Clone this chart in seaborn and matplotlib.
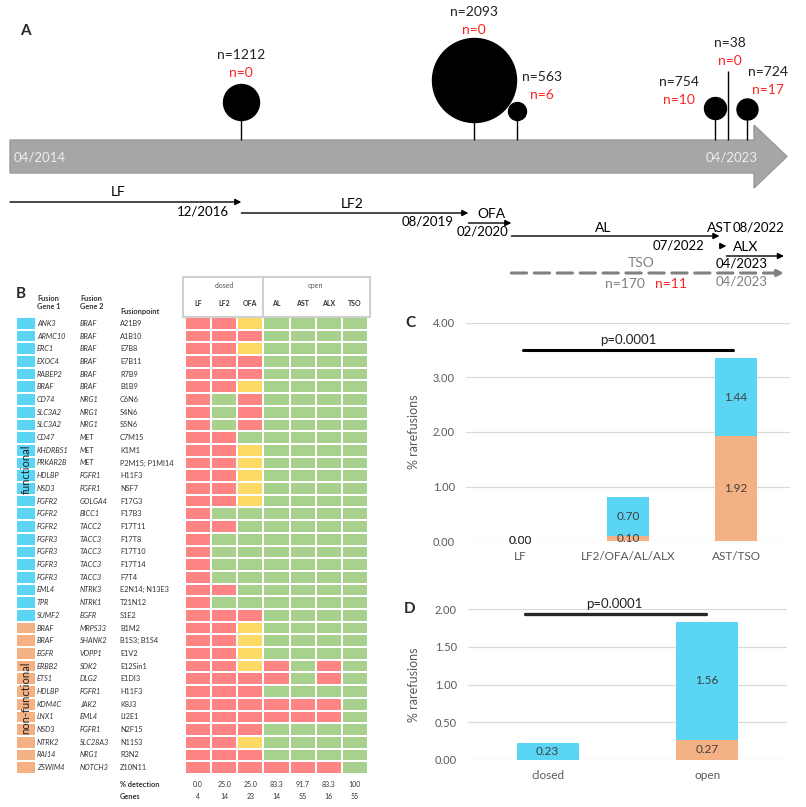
import numpy as np
import pandas as pd
import matplotlib
matplotlib.use("Agg")
import matplotlib.pyplot as plt
import matplotlib.transforms as mtransforms
from matplotlib.colors import ListedColormap
from matplotlib.patches import Polygon, Rectangle
import seaborn as sns

# ---------------- data ----------------
# panel A: cohorts on the timeline
lolli_date = [2016.94, 2019.64, 2020.15, 2022.45, 2022.60, 2022.82]
lolli_n = [1212, 2093, 563, 754, 38, 724]
lolli_hits = [0, 0, 6, 10, 0, 17]

# panel A: panel validity periods
arr_names = ["LF", "LF2", "OFA", "AL", "AST", "ALX", "TSO"]
arr_start = [2014.25, 2016.94, 2019.58, 2020.08, 2022.50, 2022.58, 2020.08]
arr_end = [2016.94, 2019.58, 2020.08, 2022.50, 2022.58, 2023.25, 2023.25]
arr_end_label = ["12/2016", "08/2019", "02/2020", "07/2022", "08/2022", "04/2023", "04/2023"]
tso_n = 170
tso_hits = 11

# panel B: rare fusions and detection per panel (R = no, Y = partial, G = yes)
panels = ["LF", "LF2", "OFA", "AL", "AST", "ALX", "TSO"]
gene1 = ["ANK3", "ARMC10", "ERC1", "EXOC4", "RABEP2", "BRAF", "CD74", "SLC3A2",
         "SLC3A2", "CD47", "KHDRBS1", "PRKAR2B", "HDLBP", "NSD3", "FGFR2", "FGFR2",
         "FGFR2", "FGFR3", "FGFR3", "FGFR3", "FGFR3", "EML4", "TPR", "SUMF2",
         "BRAF", "BRAF", "EGFR", "ERBB2", "ETS1", "HDLBP", "KDM4C", "LNX1",
         "NSD3", "NTRK2", "RAI14", "ZSWIM4"]
gene2 = ["BRAF", "BRAF", "BRAF", "BRAF", "BRAF", "BRAF", "NRG1", "NRG1",
         "NRG1", "MET", "MET", "MET", "FGFR1", "FGFR1", "GOLGA4", "BICC1",
         "TACC2", "TACC3", "TACC3", "TACC3", "TACC3", "NTRK3", "NTRK1", "EGFR",
         "MRPS33", "SHANK2", "VOPP1", "SDK2", "DLG2", "FGFR1", "JAK2", "EML4",
         "FGFR1", "SLC28A3", "NRG1", "NOTCH3"]
fusionpoint = ["A21B9", "A1B10", "E7B8", "E7B11", "R7B9", "B1B9", "C6N6", "S4N6",
               "S5N6", "C7M15", "K1M1", "P2M15; P1MI14", "H11F3", "NSF7", "F17G3", "F17B3",
               "F17T11", "F17T8", "F17T10", "F17T14", "F7T4", "E2N14; N13E3", "T21N12", "S1E2",
               "B1M2", "B1S3; B1S4", "E1V2", "E12Sin1", "E1DI3", "H11F3", "K8J3", "LI2E1",
               "N2F15", "N11S3", "R3N2", "Z10N11"]
functional = [1] * 24 + [0] * 12
detection = ["RRYGGGG", "RRRGGGG", "RRYGGGG", "RRRGGGG", "RRRGGGG", "RRYGGGG",
             "RGRGGGG", "RGRGGGG", "RGRGGGG", "RRGGGGG", "RRYGGGG", "RRYGGGG",
             "RRYGGGG", "RRYGGGG", "RRYGGGG", "RGGGGGG", "RRGGGGG", "RGGGGGG",
             "RGGGGGG", "RGGGGGG", "RGGGGGG", "RRGGGGG", "RGGGGGG", "RRRGGGG",
             "RRYGGGG", "RRYGGGG", "RRYGGGG", "RRYRGRG", "RRRRGRG", "RRRGGGG",
             "RRRRRRG", "RRRRRRG", "RRRGGGG", "RRYGGGG", "RRRGGGG", "RRRRRRG"]
pct_detection = ["0.0", "25.0", "25.0", "83.3", "91.7", "83.3", "100"]
n_genes = [4, 14, 23, 14, 55, 16, 55]

# panel C / D: % rare fusions
c_groups = ["LF", "LF2/OFA/AL/ALX", "AST/TSO"]
c_nonfunc = [0.00, 0.10, 1.92]
c_func = [0.00, 0.70, 1.44]
d_groups = ["closed", "open"]
d_nonfunc = [0.00, 0.27]
d_func = [0.23, 1.56]
p_value = "p=0.0001"

# ---------------- style ----------------
W, H = 806, 807
BLUE = "#5AD5F4"
ORANGE = "#F4B183"
RED_CELL = "#FF8585"
YEL_CELL = "#FFD966"
GRN_CELL = "#A9D18E"
RED_TXT = "#FF2222"
GREY_TXT = "#595959"

sns.set_style("white")
plt.rcParams["font.family"] = ["Lato", "DejaVu Sans"]

fig = plt.figure(figsize=(W / 100, H / 100), dpi=100)


def px_axes(x0, y0, x1, y1):
    return fig.add_axes([x0 / W, 1 - y1 / H, (x1 - x0) / W, (y1 - y0) / H])


# ---------------- panel A ----------------
axA = px_axes(0, 0, W, 300)
YR0, PX0, PPY = 2014.25, 10, 86.0


def px2yr(px):
    return YR0 + (px - PX0) / PPY


axA.set_xlim(px2yr(0), px2yr(W))
axA.set_ylim(300, 0)
axA.axis("off")

body = [(px2yr(10), 140), (px2yr(754), 140), (px2yr(754), 125), (px2yr(787), 156.5),
        (px2yr(754), 188), (px2yr(754), 173), (px2yr(10), 173)]
axA.add_patch(Polygon(body, closed=True, facecolor="#A6A6A6", edgecolor="#9A9A9A", lw=1))
axA.text(px2yr(14), 157, "04/2014", color="#EDEDED", fontsize=9.5, ha="left", va="center")
axA.text(px2yr(732), 157, "04/2023", color="#EDEDED", fontsize=9.5, ha="center", va="center")

bubble_r = [18, 42, 9, 11, 0, 10.5]
bubble_y = [102, 80, 111, 108, 71, 109]
lab_dx = [0, 0, 25, -36, 2, 21]
lab_y = [55, 12, 77, 82, 43, 72]
for d, n, k, r, cy, dx, ly in zip(lolli_date, lolli_n, lolli_hits, bubble_r,
                                  bubble_y, lab_dx, lab_y):
    axA.vlines(d, cy, 140, color="black", lw=1)
    if r > 0:
        axA.scatter([d], [cy], s=(2 * r * 0.72) ** 2, color="black", zorder=3)
    lx = d + dx / PPY
    axA.text(lx, ly, f"n={n}", fontsize=10, ha="center", va="center", color="#222222")
    axA.text(lx, ly + 18, f"n={k}", fontsize=10, ha="center", va="center", color=RED_TXT)

arr_y = [202, 213, 223, 236, 246, 256, 273]
name_xy = [(118, 192), (352, 204), (491, 214), (603, 228), (720, 228), (746, 247), (641, 263)]
end_xy = [(229, 212), (454, 222), (508, 231), (704, 245), (784, 227), (768, 263), (768, 281)]
for i, name in enumerate(arr_names):
    dashed = name == "TSO"
    col = "#808080" if dashed else "black"
    axA.annotate("", xy=(arr_end[i], arr_y[i]), xytext=(arr_start[i], arr_y[i]),
                 arrowprops=dict(arrowstyle="-|>", color=col, lw=2.2 if dashed else 1,
                                 ls=(0, (5, 2.5)) if dashed else "-",
                                 mutation_scale=9, shrinkA=0, shrinkB=0))
    nx, ny = name_xy[i]
    axA.text(px2yr(nx), ny, name, fontsize=10, ha="center", va="center", color=col)
    ex, ey = end_xy[i]
    axA.text(px2yr(ex), ey, arr_end_label[i], fontsize=9.5, ha="right", va="center", color=col)
axA.text(px2yr(625), 284, f"n={tso_n}", fontsize=10, ha="center", va="center", color="#808080")
axA.text(px2yr(671), 284, f"n={tso_hits}", fontsize=10, ha="center", va="center", color=RED_TXT)
axA.text(px2yr(25), 31, "A", fontsize=11, fontweight="bold", ha="center", va="center")

# ---------------- panel B ----------------
code = {"R": 0, "Y": 1, "G": 2}
mat = pd.DataFrame([[code[c] for c in row] for row in detection], columns=panels)

axH = px_axes(185, 317, 368, 774)
sns.heatmap(mat, cmap=ListedColormap([RED_CELL, YEL_CELL, GRN_CELL]), vmin=-0.5, vmax=2.5,
            cbar=False, linewidths=1.2, linecolor="white", ax=axH,
            xticklabels=panels, yticklabels=False)
axH.xaxis.tick_top()
axH.tick_params(axis="x", length=0, pad=7, labelsize=5, labelcolor="#333333")
for t in axH.get_xticklabels():
    t.set_fontweight("bold")
    t.set_rotation(0)

axH.add_patch(Rectangle((-0.08, -3.15), 7.16, 3.15, fill=False, edgecolor="#D0D0D0",
                        lw=1.5, clip_on=False))
axH.plot([3, 3], [-3.15, 0], color="#D0D0D0", lw=1.5, clip_on=False)
axH.text(1.5, -2.5, "closed", fontsize=5, ha="center", va="center", color="#555555")
axH.text(5.0, -2.5, "open", fontsize=5, ha="center", va="center", color="#555555")

axG = px_axes(16, 317, 36, 774)
sns.heatmap(np.array(functional)[:, None], cmap=ListedColormap([ORANGE, BLUE]), vmin=0, vmax=1,
            cbar=False, linewidths=1.2, linecolor="white", ax=axG,
            xticklabels=False, yticklabels=False)
axG.text(0.5, 12, "functional", rotation=90, fontsize=8, ha="center", va="center", color="#222222")
axG.text(0.5, 30, "non-functional", rotation=90, fontsize=8, ha="center", va="center", color="#222222")

trans = mtransforms.blended_transform_factory(fig.transFigure, axH.transData)
for i in range(len(gene1)):
    axH.text(37 / W, i + 0.5, gene1[i], transform=trans, fontsize=5.3, style="italic",
             ha="left", va="center", color="#333333")
    axH.text(80 / W, i + 0.5, gene2[i], transform=trans, fontsize=5.3, style="italic",
             ha="left", va="center", color="#333333")
    axH.text(120 / W, i + 0.5, fusionpoint[i], transform=trans, fontsize=5.3,
             ha="left", va="center", color="#333333")

axH.text(37 / W, -1.15, "Fusion\nGene 1", transform=trans, fontsize=5.3, fontweight="bold",
         ha="left", va="center", color="#333333", linespacing=1.3)
axH.text(80 / W, -1.15, "Fusion\nGene 2", transform=trans, fontsize=5.3, fontweight="bold",
         ha="left", va="center", color="#333333", linespacing=1.3)
axH.text(120 / W, -0.45, "Fusionpoint", transform=trans, fontsize=5.3, fontweight="bold",
         ha="left", va="center", color="#333333")
axH.text(120 / W, 36.8, "% detection", transform=trans, fontsize=5.3, fontweight="bold",
         ha="left", va="center", color="#333333")
axH.text(120 / W, 37.75, "Genes", transform=trans, fontsize=5.3, fontweight="bold",
         ha="left", va="center", color="#333333")
for j in range(len(panels)):
    axH.text(j + 0.5, 36.8, pct_detection[j], fontsize=5, ha="center", va="center",
             color="#333333", clip_on=False)
    axH.text(j + 0.5, 37.75, str(n_genes[j]), fontsize=5, ha="center", va="center",
             color="#333333", clip_on=False)
axH.text(21 / W, -1.85, "B", transform=trans, fontsize=11, fontweight="bold",
         ha="center", va="center")


# ---------------- panels C / D ----------------
def stacked(ax, groups, nonfunc, func, ymax, step, show_zero):
    df = pd.DataFrame({"group": groups, "nonfunc": nonfunc, "func": func})
    df["total"] = df["nonfunc"] + df["func"]
    sns.barplot(data=df, x="group", y="total", color=BLUE, width=0.39, saturation=1,
                errorbar=None, linewidth=0, ax=ax)
    sns.barplot(data=df, x="group", y="nonfunc", color=ORANGE, width=0.39, saturation=1,
                errorbar=None, linewidth=0, ax=ax)
    for i, row in df.iterrows():
        for bottom, val in [(0, row["nonfunc"]), (row["nonfunc"], row["func"])]:
            if val > 0 or show_zero:
                ax.text(i, bottom + val / 2, f"{val:.2f}", ha="center", va="center",
                        fontsize=8.5, color="#404040")
    ax.set_ylim(0, ymax)
    ax.set_xlim(-0.5, len(groups) - 0.5)
    ax.set_yticks(np.arange(0, ymax + step / 2, step))
    ax.set_yticklabels([f"{v:.2f}" for v in np.arange(0, ymax + step / 2, step)])
    ax.yaxis.grid(True, color="#D9D9D9", lw=0.9)
    ax.set_axisbelow(True)
    sns.despine(ax=ax, left=True, bottom=True)
    ax.tick_params(axis="y", length=0, pad=8, labelsize=8, labelcolor=GREY_TXT)
    ax.tick_params(axis="x", length=0, pad=7, labelsize=8.5, labelcolor=GREY_TXT)
    ax.set_xlabel("")
    ax.set_ylabel("% rarefusions", fontsize=9, color=GREY_TXT)


axC = px_axes(466, 323, 790, 541)
stacked(axC, c_groups, c_nonfunc, c_func, 4, 1, True)
axC.yaxis.set_label_coords(-0.142, 0.5)
axC.plot([0.03, 1.97], [3.5, 3.5], color="black", lw=2.2, clip_on=False)
axC.text(1, 3.68, p_value, fontsize=9.5, ha="center", va="center", color="#222222")
axC.text(-0.5 - 56 / 108, 4.0, "C", fontsize=11, fontweight="bold", ha="center", va="center")

axD = px_axes(468, 609, 787, 760)
stacked(axD, d_groups, d_nonfunc, d_func, 2, 0.5, False)
axD.yaxis.set_label_coords(-0.15, 0.5)
axD.plot([-0.14, 0.99], [1.93, 1.93], color="#262626", lw=2.4, clip_on=False)
axD.text(0.42, 2.07, p_value, fontsize=9.5, ha="center", va="center", color="#222222",
         clip_on=False)
axD.text(-0.5 - 58 / 159.5, 2.0, "D", fontsize=11, fontweight="bold", ha="center", va="center")

fig.savefig("out.png", dpi=100)
